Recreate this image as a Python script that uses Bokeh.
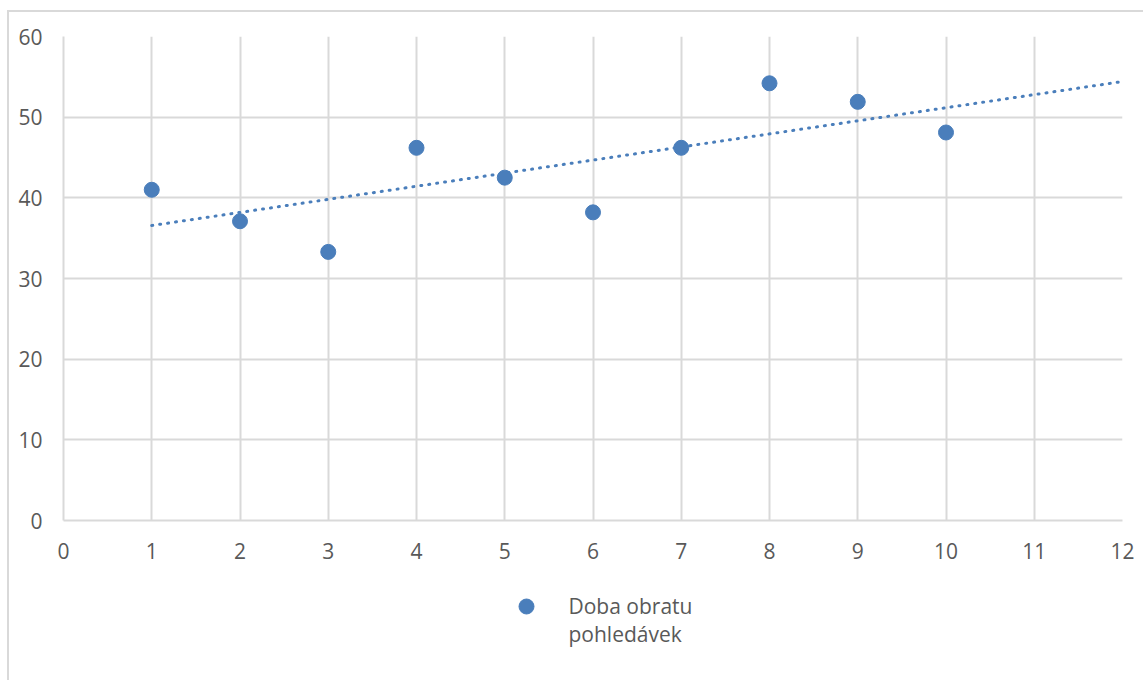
import numpy as np
from bokeh.plotting import figure
from bokeh.layouts import column
from bokeh.models import ColumnDataSource, Range1d, FixedTicker
from bokeh.core.properties import value
from bokeh.embed import file_html
from bokeh.resources import INLINE

# Receivables turnover period (days) by period index
periods = [1, 2, 3, 4, 5, 6, 7, 8, 9, 10]
turnover_days = [41.0, 37.1, 33.3, 46.2, 42.5, 38.2, 46.2, 54.2, 51.9, 48.1]
series_lines = ["Doba obratu", "pohledávek"]

x_ticks = list(range(0, 13))
y_ticks = [0, 10, 20, 30, 40, 50, 60]

BLUE = "#4a7ebb"
GRID = "#d9d9d9"
TEXT = "#595959"
FONT = "Open Sans"
FONT_SIZE = "21px"

W = 1134
BORDER_L, BORDER_R = 54, 21

# Linear trend, extended forward to period 12
slope, intercept = np.polyfit(periods, turnover_days, 1)
trend_x = [periods[0], 12]
trend_y = [intercept + slope * x for x in trend_x]

src = ColumnDataSource(data=dict(x=periods, y=turnover_days))
trend_src = ColumnDataSource(data=dict(x=trend_x, y=trend_y))

# --- main scatter chart ---
p = figure(width=W, height=558, output_backend="svg", toolbar_location=None,
           x_range=Range1d(0, 12), y_range=Range1d(0, 60),
           min_border_left=BORDER_L, min_border_top=24, min_border_right=BORDER_R,
           min_border_bottom=50)
p.outline_line_color = None
p.background_fill_color = "white"
p.border_fill_color = "white"

p.line("x", "y", source=trend_src, line_color=BLUE, line_width=3,
       line_dash="1 7", line_cap="round")
p.scatter("x", "y", source=src, size=15, fill_color=BLUE, line_color=BLUE)

for ax in (p.xaxis[0], p.yaxis[0]):
    ax.axis_line_color = GRID
    ax.axis_line_width = 2
    ax.major_tick_line_color = None
    ax.minor_tick_line_color = None
    ax.major_label_text_font = FONT
    ax.major_label_text_font_size = FONT_SIZE
    ax.major_label_text_color = TEXT
p.xaxis[0].ticker = FixedTicker(ticks=x_ticks)
p.yaxis[0].ticker = FixedTicker(ticks=y_ticks)
p.xaxis[0].major_label_standoff = 16
p.yaxis[0].major_label_standoff = 15

for g in (p.xgrid[0], p.ygrid[0]):
    g.grid_line_color = GRID
    g.grid_line_width = 2
p.xgrid[0].ticker = FixedTicker(ticks=x_ticks)
p.ygrid[0].ticker = FixedTicker(ticks=y_ticks)

# --- legend strip below the chart (pixel coordinates) ---
LEG_H = 110
leg = figure(width=W, height=LEG_H, output_backend="svg", toolbar_location=None,
             x_range=Range1d(0, W - BORDER_L - BORDER_R), y_range=Range1d(0, LEG_H),
             x_axis_location=None, y_axis_location=None,
             min_border_left=BORDER_L, min_border_right=BORDER_R,
             min_border_top=0, min_border_bottom=0)
leg.outline_line_color = None
leg.xgrid.visible = False
leg.ygrid.visible = False
leg.border_fill_color = "white"

key_x, key_y = 463, 74
label_x = 505
label_baselines = [75, 47]

leg.scatter(x=[key_x], y=[key_y], size=15, fill_color=BLUE, line_color=BLUE)
leg.text(x=[label_x] * len(series_lines), y=label_baselines, text=series_lines,
         text_font=value(FONT), text_font_size=value(FONT_SIZE),
         text_color=TEXT, text_align="left", text_baseline="alphabetic")

layout = column(p, leg, spacing=0,
                styles={"margin-left": "7px", "margin-top": "10px",
                        "border-left": "2px solid #d9d9d9",
                        "border-top": "2px solid #d9d9d9"})

open("out.html", "w").write(file_html(layout, INLINE))
